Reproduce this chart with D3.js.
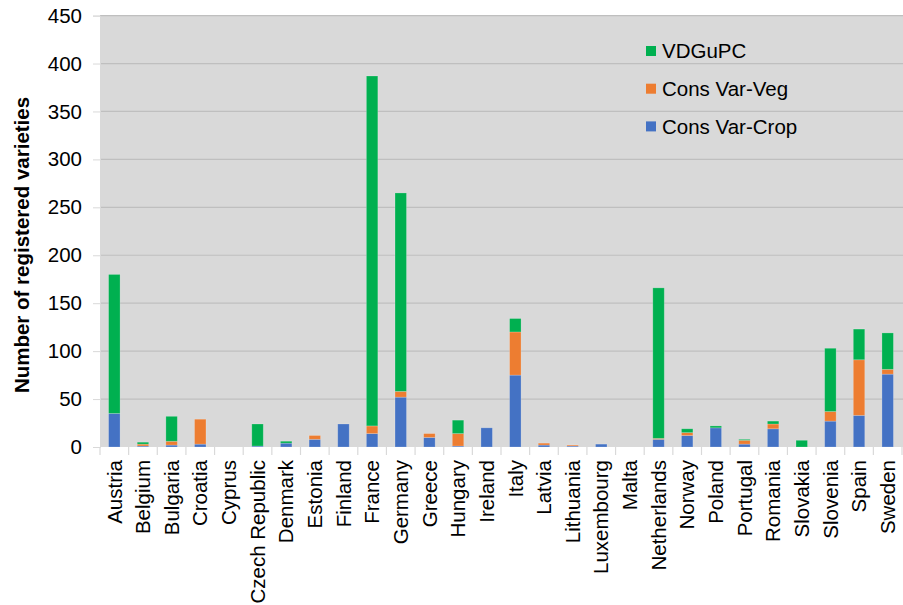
<!DOCTYPE html>
<html>
<head>
<meta charset="utf-8">
<script src="https://cdn.jsdelivr.net/npm/d3@7"></script>
<style>
  html, body { margin: 0; padding: 0; background: #fff; }
  svg { display: block; font-family: "Liberation Sans", Arial, sans-serif; }
</style>
</head>
<body>
<svg id="chart" width="903" height="605"></svg>
<script>
// Registered varieties per country, stacked by register type
const countries = ["Austria", "Belgium", "Bulgaria", "Croatia", "Cyprus", "Czech Republic",
  "Denmark", "Estonia", "Finland", "France", "Germany", "Greece", "Hungary", "Ireland",
  "Italy", "Latvia", "Lithuania", "Luxembourg", "Malta", "Netherlands", "Norway", "Poland",
  "Portugal", "Romania", "Slovakia", "Slovenia", "Spain", "Sweden"];

const consVarCrop = [35, 1, 2, 3, 0, 1, 4, 8, 24, 14, 52, 10, 1, 20, 75, 2, 1, 3, 0, 8, 12, 20, 3, 19, 0, 27, 33, 76];
const consVarVeg  = [0, 2, 4, 26, 0, 0, 0, 4, 0, 8, 6, 4, 13, 0, 45, 2, 1, 0, 0, 1, 3, 0, 4, 5, 0, 10, 58, 5];
const vdguPC      = [145, 2, 26, 0, 0, 23, 2, 0, 0, 365, 207, 0, 14, 0, 14, 0, 0, 0, 0, 157, 4, 2, 1, 3, 7, 66, 32, 38];

const seriesNames = ["Cons Var-Crop", "Cons Var-Veg", "VDGuPC"];
const seriesColors = ["#4472C4", "#ED7D31", "#00B050"];
const yTicks = [0, 50, 100, 150, 200, 250, 300, 350, 400, 450];
const yTitle = "Number of registered varieties";

const FONT = 20.5;
const svg = d3.select("#chart");
const plot = { left: 100, right: 902, top: 15.6, bottom: 447 };

const rows = countries.map((c, i) => ({
  country: c,
  "Cons Var-Crop": consVarCrop[i],
  "Cons Var-Veg": consVarVeg[i],
  "VDGuPC": vdguPC[i]
}));

const x = d3.scaleBand().domain(countries)
  .range([plot.left, plot.right]).paddingInner(0.6).paddingOuter(0.3);
const y = d3.scaleLinear().domain([0, 450]).range([plot.bottom, plot.top]);
const color = d3.scaleOrdinal().domain(seriesNames).range(seriesColors);

// plot background
svg.append("rect")
  .attr("x", plot.left).attr("y", plot.top)
  .attr("width", 903 - plot.left).attr("height", plot.bottom - plot.top)
  .attr("fill", "#d9d9d9");

// horizontal gridlines
svg.append("g").selectAll("line")
  .data(yTicks.filter(t => t > 0))
  .join("line")
  .attr("x1", plot.left).attr("x2", 903)
  .attr("y1", d => y(d)).attr("y2", d => y(d))
  .attr("stroke", "#bfbfbf").attr("stroke-width", 1.2);

// stacked bars
const stack = d3.stack().keys(seriesNames);
svg.append("g").selectAll("g")
  .data(stack(rows))
  .join("g")
  .attr("fill", d => color(d.key))
  .selectAll("rect")
  .data(d => d)
  .join("rect")
  .attr("x", d => x(d.data.country))
  .attr("width", x.bandwidth())
  .attr("y", d => y(d[1]))
  .attr("height", d => y(d[0]) - y(d[1]))
  .attr("stroke", "rgba(255,255,255,0.25)")
  .attr("stroke-width", 0.8);

// y axis
const yAxis = svg.append("g")
  .attr("transform", `translate(${plot.left},0)`)
  .call(d3.axisLeft(y).tickValues(yTicks).tickSize(7).tickPadding(11));
yAxis.select(".domain").attr("stroke", "#d9d9d9");
yAxis.selectAll(".tick line").attr("stroke", "#d9d9d9");
yAxis.selectAll(".tick text")
  .attr("font-size", FONT).attr("fill", "#000")
  .attr("font-family", "Liberation Sans, Arial, sans-serif");

// x axis: ticks at band boundaries
const xAxisG = svg.append("g");
const boundaries = countries.map(c => x(c) - x.step() * x.paddingInner() / 2);
boundaries.push(plot.right);
xAxisG.selectAll("line")
  .data(boundaries)
  .join("line")
  .attr("x1", d => d).attr("x2", d => d)
  .attr("y1", plot.bottom).attr("y2", plot.bottom + 8)
  .attr("stroke", "#d9d9d9").attr("stroke-width", 1.2);
xAxisG.selectAll("text")
  .data(countries)
  .join("text")
  .attr("transform", d => `translate(${x(d) + x.bandwidth() / 2},${plot.bottom + 13}) rotate(-90)`)
  .attr("text-anchor", "end")
  .attr("dy", "0.35em")
  .attr("font-size", FONT)
  .attr("fill", "#000")
  .text(d => d);

// y axis title
svg.append("text")
  .attr("transform", `translate(22,245) rotate(-90)`)
  .attr("text-anchor", "middle")
  .attr("dy", "0.35em")
  .attr("font-size", FONT)
  .attr("font-weight", "bold")
  .attr("fill", "#000")
  .text(yTitle);

// legend (top series first)
const legendItems = seriesNames.slice().reverse();
const legend = svg.append("g").selectAll("g")
  .data(legendItems)
  .join("g")
  .attr("transform", (d, i) => `translate(646,${51 + i * 37.7})`);
legend.append("rect")
  .attr("x", 0).attr("y", -5).attr("width", 10).attr("height", 10)
  .attr("fill", d => color(d));
legend.append("text")
  .attr("x", 16).attr("dy", "0.35em")
  .attr("font-size", FONT).attr("fill", "#000")
  .text(d => d);
</script>
</body>
</html>
